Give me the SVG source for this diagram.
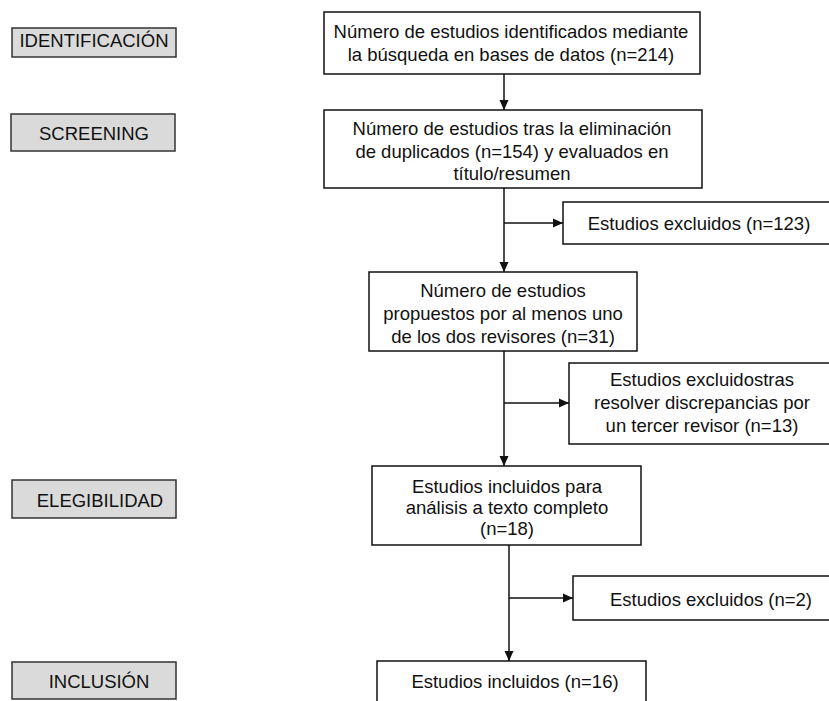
<svg xmlns="http://www.w3.org/2000/svg" width="829" height="701" viewBox="0 0 829 701">
<defs>
<style>
.box{fill:#fff;stroke:#111;stroke-width:1.5}
.lab{fill:#dadada;stroke:#333;stroke-width:1.5}
text{font-family:"Liberation Sans",Arial,sans-serif;font-size:18.5px;fill:#111;text-anchor:middle}
.con{stroke:#111;stroke-width:1.5;fill:none}
</style>
<marker id="ah" viewBox="0 0 10 10" refX="10" refY="5" markerWidth="10" markerHeight="10" markerUnits="userSpaceOnUse" orient="auto">
<path d="M0,0.5 L10,5 L0,9.5 Z" fill="#111"/>
</marker>
</defs>
<rect width="829" height="701" fill="#fff"/>
<g id="lab-identificacion"><rect class="lab" x="12" y="28" width="164" height="29"/><text x="94" y="47">IDENTIFICACIÓN</text></g>
<g id="lab-screening"><rect class="lab" x="11" y="114" width="164" height="37"/><text x="94" y="140">SCREENING</text></g>
<g id="lab-elegibilidad"><rect class="lab" x="12" y="480" width="164" height="38"/><text x="100" y="507">ELEGIBILIDAD</text></g>
<g id="lab-inclusion"><rect class="lab" x="12" y="662" width="164" height="37"/><text x="99" y="688">INCLUSIÓN</text></g>

<g id="n1"><rect class="box" x="324" y="12" width="376" height="62"/>
<text x="511" y="38">Número de estudios identificados mediante</text>
<text x="511" y="61">la búsqueda en bases de datos (n=214)</text></g>

<g id="n2"><rect class="box" x="324" y="110" width="378" height="78"/>
<text x="512" y="135">Número de estudios tras la eliminación</text>
<text x="512" y="158">de duplicados (n=154) y evaluados en</text>
<text x="512" y="180">título/resumen</text></g>

<g id="n3"><rect class="box" x="563" y="202" width="272" height="42"/>
<text x="699" y="230">Estudios excluidos (n=123)</text></g>

<g id="n4"><rect class="box" x="369" y="272" width="268" height="79"/>
<text x="503" y="297">Número de estudios</text>
<text x="503" y="320">propuestos por al menos uno</text>
<text x="503" y="343">de los dos revisores (n=31)</text></g>

<g id="n5"><rect class="box" x="569" y="363" width="266" height="81"/>
<text x="702" y="386">Estudios excluidostras</text>
<text x="702" y="409">resolver discrepancias por</text>
<text x="702" y="432">un tercer revisor (n=13)</text></g>

<g id="n6"><rect class="box" x="372" y="466" width="269" height="79"/>
<text x="507" y="493">Estudios incluidos para</text>
<text x="507" y="514">análisis a texto completo</text>
<text x="507" y="535">(n=18)</text></g>

<g id="n7"><rect class="box" x="573" y="576" width="262" height="44"/>
<text x="711" y="606">Estudios excluidos (n=2)</text></g>

<g id="n8"><rect class="box" x="377" y="661" width="269" height="60"/>
<text x="515" y="688">Estudios incluidos (n=16)</text></g>

<g id="connectors">
<path class="con" d="M504,74 V110" marker-end="url(#ah)"/>
<path class="con" d="M504,188 V272" marker-end="url(#ah)"/>
<path class="con" d="M504,223 H563" marker-end="url(#ah)"/>
<path class="con" d="M504,351 V466" marker-end="url(#ah)"/>
<path class="con" d="M504,403 H569" marker-end="url(#ah)"/>
<path class="con" d="M509,545 V661" marker-end="url(#ah)"/>
<path class="con" d="M509,598 H573" marker-end="url(#ah)"/>
</g>
</svg>
